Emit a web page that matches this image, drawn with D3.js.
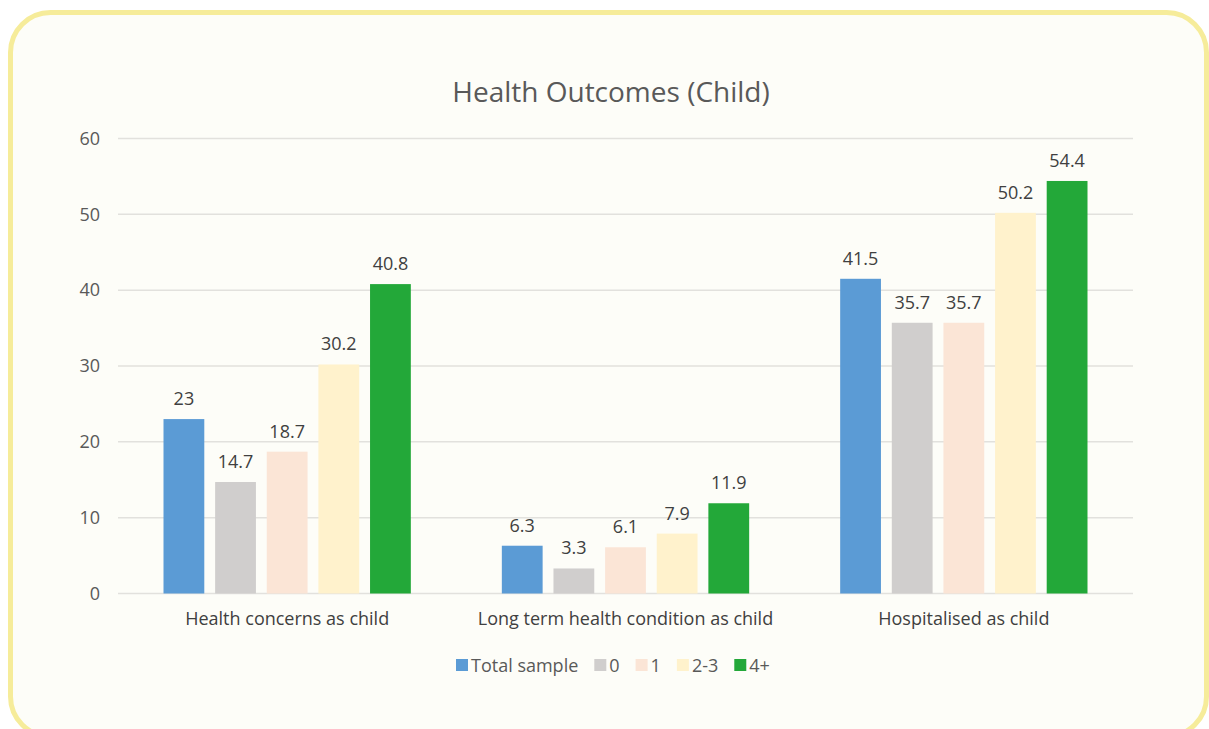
<!DOCTYPE html>
<html>
<head>
<meta charset="utf-8">
<script src="https://cdn.jsdelivr.net/npm/d3@7"></script>
<style>
  html, body { margin: 0; padding: 0; background: #ffffff; }
  svg { display: block; font-family: 'Open Sans', sans-serif; }
</style>
</head>
<body>
<svg id="chart"></svg>
<script>
const categories = ['Health concerns as child', 'Long term health condition as child', 'Hospitalised as child'];
const seriesNames = ['Total sample', '0', '1', '2-3', '4+'];
const totalSample = [23, 6.3, 41.5];
const zero = [14.7, 3.3, 35.7];
const one = [18.7, 6.1, 35.7];
const twoThree = [30.2, 7.9, 50.2];
const fourPlus = [40.8, 11.9, 54.4];
const seriesColors = ['#5b9bd5', '#d0cecd', '#fbe5d6', '#fff2cc', '#23a839'];
const yTicks = [0, 10, 20, 30, 40, 50, 60];

const seriesValues = [totalSample, zero, one, twoThree, fourPlus];

const width = 1209;
const height = 729;
const plot = { left: 118, right: 1133, top: 138.5, bottom: 593.5 };

const svg = d3.select('#chart')
  .attr('width', width)
  .attr('height', height);

// card background with yellow border
svg.append('rect')
  .attr('x', 10.5)
  .attr('y', 12.5)
  .attr('width', 1196)
  .attr('height', 724)
  .attr('rx', 40)
  .attr('fill', '#fdfdf8')
  .attr('stroke', '#f6ec9a')
  .attr('stroke-width', 5);

const x0 = d3.scaleBand(categories, [plot.left, plot.right]);
const groupPad = 45.5;
const x1 = d3.scaleBand(seriesNames, [groupPad, x0.bandwidth() - groupPad]).paddingInner(0.21);
const y = d3.scaleLinear([0, 60], [plot.bottom, plot.top]);

// grid lines
svg.append('g')
  .selectAll('line')
  .data(yTicks)
  .join('line')
  .attr('x1', plot.left)
  .attr('x2', plot.right)
  .attr('y1', (d) => y(d))
  .attr('y2', (d) => y(d))
  .attr('stroke', '#e2e1dd')
  .attr('stroke-width', 1.5);

// y axis labels
const yAxis = d3.axisLeft(y)
  .tickValues(yTicks)
  .tickSize(0)
  .tickPadding(18);

svg.append('g')
  .attr('transform', `translate(${plot.left}, 0)`)
  .call(yAxis)
  .call((g) => g.select('.domain').remove())
  .call((g) => g.selectAll('text')
    .attr('fill', '#595959')
    .style('font-size', '18px')
    .style('font-family', "'Open Sans', sans-serif"));

// bars
const rows = categories.map((c, i) => ({
  category: c,
  values: seriesNames.map((s, j) => ({ series: s, value: seriesValues[j][i], color: seriesColors[j] }))
}));

const groups = svg.append('g')
  .selectAll('g')
  .data(rows)
  .join('g')
  .attr('transform', (d) => `translate(${x0(d.category)}, 0)`);

groups.selectAll('rect')
  .data((d) => d.values)
  .join('rect')
  .attr('x', (d) => x1(d.series))
  .attr('y', (d) => y(d.value))
  .attr('width', x1.bandwidth())
  .attr('height', (d) => y(0) - y(d.value))
  .attr('fill', (d) => d.color);

groups.selectAll('text')
  .data((d) => d.values)
  .join('text')
  .attr('x', (d) => x1(d.series) + x1.bandwidth() / 2)
  .attr('y', (d) => y(d.value) - 14)
  .attr('text-anchor', 'middle')
  .attr('fill', '#404040')
  .style('font-size', '18px')
  .text((d) => d.value);

// category labels
const xAxis = d3.axisBottom(x0).tickSize(0).tickPadding(19);

svg.append('g')
  .attr('transform', `translate(0, ${plot.bottom})`)
  .call(xAxis)
  .call((g) => g.select('.domain').remove())
  .call((g) => g.selectAll('text')
    .attr('fill', '#404040')
    .style('font-size', '18px')
    .style('font-family', "'Open Sans', sans-serif"));

// title
svg.append('text')
  .attr('x', 611)
  .attr('y', 102)
  .attr('text-anchor', 'middle')
  .attr('fill', '#595959')
  .style('font-size', '28px')
  .text('Health Outcomes (Child)');

// legend
const legend = svg.append('g').attr('transform', 'translate(456, 665)');
let lx = 0;
seriesNames.forEach((s, i) => {
  const item = legend.append('g').attr('transform', `translate(${lx}, 0)`);
  item.append('rect')
    .attr('x', 0)
    .attr('y', -6)
    .attr('width', 12)
    .attr('height', 12)
    .attr('fill', seriesColors[i]);
  const t = item.append('text')
    .attr('x', 15)
    .attr('y', 6.5)
    .attr('fill', '#595959')
    .style('font-size', '18px')
    .text(s);
  lx += 15 + t.node().getComputedTextLength() + 16;
});
</script>
</body>
</html>
